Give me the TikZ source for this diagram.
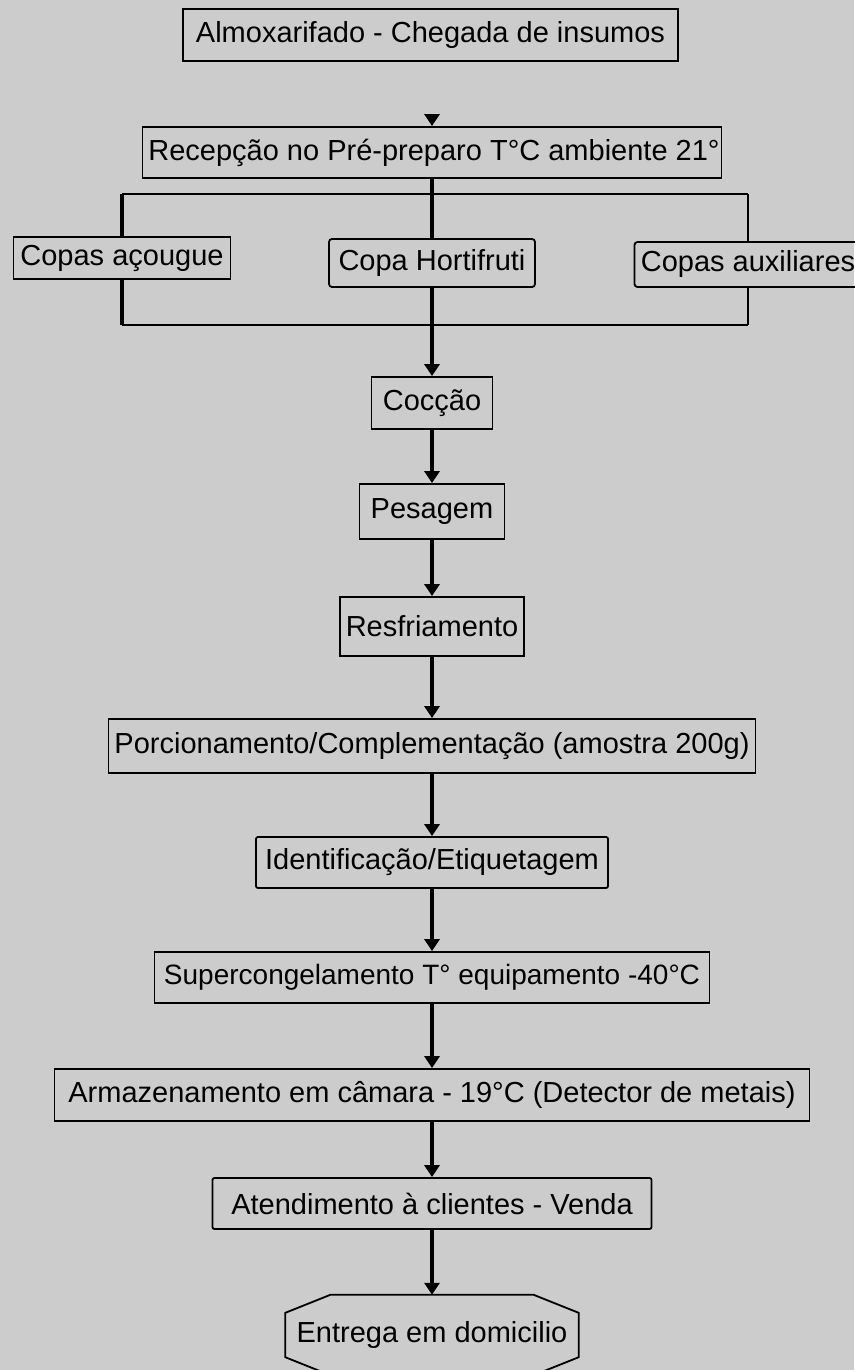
\documentclass[tikz,border=0pt]{standalone}
\usepackage{fontspec}
\setmainfont{Liberation Sans}
\usetikzlibrary{arrows.meta}
\definecolor{bg}{RGB}{204,204,204}
\begin{document}
\begin{tikzpicture}[x=1pt,y=-1pt,
  box/.style={draw=black, line width=1.8pt, inner sep=0pt, anchor=center,
    font=\fontsize{29}{33}\selectfont},
  rbox/.style={box, rounded corners=3pt},
  flow/.style={line width=4pt, -{Triangle[width=15pt,length=12pt]}},
  trunk/.style={line width=4pt},
  brk/.style={line width=2.5pt},
  brkthick/.style={line width=3.5pt},
  brkthin/.style={line width=2pt},
]
\fill[bg] (0,0) rectangle (854,1370);
\useasboundingbox (0,0) rectangle (854,1370);

\node[box, minimum width=495pt, minimum height=52pt] (alm) at (430.5,35) {Almoxarifado - Chegada de insumos};
\node[box, minimum width=579pt, minimum height=51pt] (rec) at (432,152.5) {\hspace*{4pt}Recepção no Pré-preparo T°C ambiente 21°};
\node[box, minimum width=217pt, minimum height=42pt] (acg) at (122,258) {Copas açougue};
\node[rbox, minimum width=206pt, minimum height=48pt] (hor) at (432,263) {Copa Hortifruti};
\node[rbox, minimum width=227pt, minimum height=45pt] (aux) at (748,264.5) {Copas auxiliares};
\node[box, minimum width=121pt, minimum height=52pt] (coc) at (432,403) {Cocção};
\node[box, minimum width=145pt, minimum height=55pt] (pes) at (432,511.5) {Pesagem};
\node[box, minimum width=184pt, minimum height=59pt] (res) at (432,626.5) {Resfriamento};
\node[box, minimum width=647pt, minimum height=54pt] (por) at (432,746) {Porcionamento/Complementação (amostra 200g)};
\node[rbox, rounded corners=2pt, minimum width=352pt, minimum height=51pt] (ide) at (432,862.5) {Identificação/Etiquetagem};
\node[box, minimum width=555pt, minimum height=51pt, font=\fontsize{28}{32}\selectfont] (sup) at (432,977.5) {Supercongelamento T° equipamento -40°C};
\node[box, minimum width=755pt, minimum height=52pt] (arm) at (432,1095) {Armazenamento em câmara - 19°C (Detector de metais)};
\node[rbox, rounded corners=2pt, minimum width=439pt, minimum height=51pt] (ate) at (432,1203.5) {Atendimento à clientes - Venda};
\node[inner sep=0pt, minimum width=293pt, minimum height=80pt, font=\fontsize{29}{33}\selectfont] (ent) at (432,1335) {Entrega em domicilio};
\draw[line width=1.8pt]
  ([xshift=45pt]ent.north west) -- ([xshift=-45pt]ent.north east)
  -- ([yshift=-18pt]ent.north east) -- ([yshift=18pt]ent.south east)
  -- ([xshift=-45pt]ent.south east) -- ([xshift=45pt]ent.south west)
  -- ([yshift=18pt]ent.south west) -- ([yshift=-18pt]ent.north west) -- cycle;

% connectors
\coordinate (in) at (432,115);
\draw[flow] (in) -- (rec.north);

\coordinate (tl) at (122,194);
\coordinate (tr) at (748,194);
\coordinate (bl) at (122,325);
\coordinate (br) at (748,325);
\draw[trunk] (rec.south) -- (hor.north);
\draw[brk] (tl) -- (tr);
\draw[brkthick] (tl) -- (acg.north);
\draw[brkthin] (tr) -- (aux.north);
\draw[brk] (bl) -- (br);
\draw[brkthick] (acg.south) -- (bl);
\draw[brkthin] (aux.south) -- (br);
\draw[flow] (hor.south) -- (coc.north);
\draw[flow] (coc.south) -- (pes.north);
\draw[flow] (pes.south) -- (res.north);
\draw[flow] (res.south) -- (por.north);
\draw[flow] (por.south) -- (ide.north);
\draw[flow] (ide.south) -- (sup.north);
\draw[flow] (sup.south) -- (arm.north);
\draw[flow] (arm.south) -- (ate.north);
\draw[flow] (ate.south) -- (ent.north);
\end{tikzpicture}
\end{document}
